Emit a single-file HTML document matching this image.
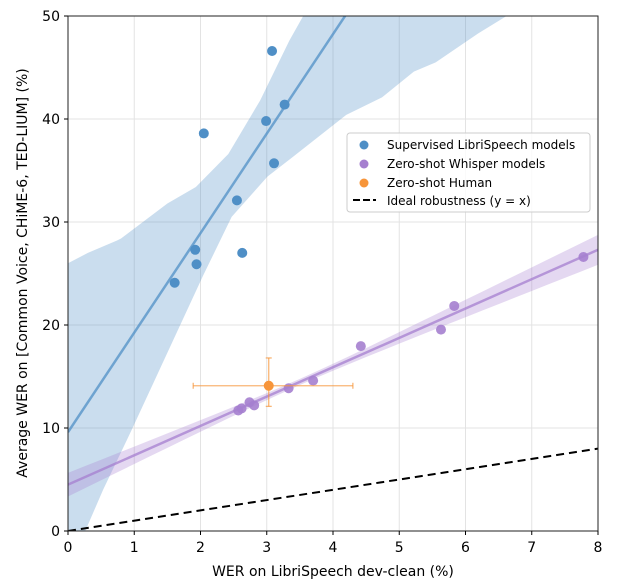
<!DOCTYPE html>
<html><head><meta charset="utf-8"><style>
body{margin:0;background:#fff}
svg text{font-family:"DejaVu Sans","Liberation Sans",sans-serif;fill:#000}
</style></head><body>
<svg id="chart" width="620" height="583" xmlns="http://www.w3.org/2000/svg">
<defs><clipPath id="clip"><rect x="68" y="16" width="530" height="515"/></clipPath></defs>
<g id="grid"></g>
<g id="plot" clip-path="url(#clip)"></g>
<rect x="68" y="16" width="530" height="515" fill="none" stroke="#222" stroke-width="1"/>
<g id="ticks"></g>
<text x="333" y="576" font-size="14" text-anchor="middle">WER on LibriSpeech dev-clean (%)</text>
<text transform="translate(27,273) rotate(-90)" font-size="14" text-anchor="middle">Average WER on [Common Voice, CHiME-6, TED-LIUM] (%)</text>
<g>
<rect x="347" y="133" width="243" height="79" rx="3" fill="#fff" fill-opacity="0.8" stroke="#ccc"/>
<circle cx="364" cy="145" r="4.5" fill="#4f8fc6"/>
<text x="387" y="149" font-size="12">Supervised LibriSpeech models</text>
<circle cx="364" cy="164" r="4.5" fill="#a57fcf"/>
<text x="387" y="168" font-size="12">Zero-shot Whisper models</text>
<circle cx="364" cy="183" r="4.5" fill="#f7953a"/>
<text x="387" y="187" font-size="12">Zero-shot Human</text>
<line x1="353" y1="200" x2="376" y2="200" stroke="#000" stroke-width="2" stroke-dasharray="7,3"/>
<text x="387" y="205" font-size="12">Ideal robustness (y = x)</text>
</g>
</svg>
<script>
const xTicks=[0,1,2,3,4,5,6,7,8];
const yTicks=[0,10,20,30,40,50];
const supX=[3.08,3.27,2.99,2.05,3.11,2.55,1.92,2.63,1.94,1.61];
const supY=[46.6,41.4,39.8,38.6,35.7,32.1,27.3,27.0,25.9,24.1];
const whX=[7.78,5.83,5.63,4.42,3.70,3.33,2.74,2.81,2.62,2.57];
const whY=[26.6,21.85,19.55,17.95,14.6,13.86,12.5,12.2,11.9,11.7];
const humX=[3.03], humY=[14.1], humXLo=[1.89], humXHi=[4.30], humYLo=[12.1], humYHi=[16.8];
const supFit=[9.6,9.66]; // intercept, slope
const whFit=[4.5,2.85];
const supBandUpperX=[0,0.3,0.74,0.8,1.5,1.93,2.42,2.9,3.34,3.55,8];
const supBandUpperY=[26,27,28.2,28.4,31.8,33.4,36.6,41.8,47.6,50,50];
const supBandLowerX=[8,6.62,6.19,5.55,5.22,4.74,4.2,3.39,3.01,2.47,2.04,1.5,0.96,0.53,0.26,0];
const supBandLowerY=[50,50,48.3,45.5,44.6,42.1,40.4,36.3,34.4,30.5,24.8,17.3,9.8,4,0,-4];
const NS='http://www.w3.org/2000/svg';
const X=v=>68+v*530/8, Y=v=>531-v*515/50;
function mk(tag,attrs,parent){const e=document.createElementNS(NS,tag);for(const k in attrs)e.setAttribute(k,attrs[k]);parent.appendChild(e);return e;}
const grid=document.getElementById('grid'),plot=document.getElementById('plot'),ticks=document.getElementById('ticks');
xTicks.forEach(t=>{
 let l=mk('line',{x1:X(t),x2:X(t),y1:16,y2:531,stroke:'#e3e3e3'},grid);
 
 
 let tk=mk('line',{x1:X(t),x2:X(t),y1:531,y2:535,stroke:'#000'},ticks);
 
 
 let tx=mk('text',{x:X(t),y:552,'font-size':14,'text-anchor':'middle'},ticks);tx.textContent=t;
 
 
});
yTicks.forEach(t=>{
 let l=mk('line',{x1:68,x2:598,y1:Y(t),y2:Y(t),stroke:'#e3e3e3'},grid);
 
 
 let tk=mk('line',{x1:64,x2:68,y1:Y(t),y2:Y(t),stroke:'#000'},ticks);
 
 
 let tx=mk('text',{x:60,y:Y(t)+5,'font-size':14,'text-anchor':'end'},ticks);tx.textContent=t;
 
 
});
let pts=supBandUpperX.map((x,i)=>X(x)+','+Y(supBandUpperY[i])).concat(supBandLowerX.map((x,i)=>X(x)+','+Y(supBandLowerY[i])));
let sb=mk('polygon',{points:pts.join(' '),fill:'#4f8fc6','fill-opacity':0.3},plot);


let up=[],lo=[];
for(let x=0;x<=8.001;x+=0.25){const c=whFit[0]+whFit[1]*x,h=Math.sqrt(0.09+0.1*(x-3.5)*(x-3.5));up.push(X(x)+','+Y(c+h));lo.unshift(X(x)+','+Y(c-h));}
let wb=mk('polygon',{points:up.concat(lo).join(' '),fill:'#a57fcf','fill-opacity':0.3},plot);


let il=mk('line',{x1:X(0),y1:Y(0),x2:X(8),y2:Y(8),stroke:'#000','stroke-width':2,'stroke-dasharray':'8,5'},plot);


let sl=mk('line',{x1:X(0),y1:Y(supFit[0]),x2:X(8),y2:Y(supFit[0]+supFit[1]*8),stroke:'#4f8fc6','stroke-width':2.5,'stroke-opacity':0.75},plot);


let wl=mk('line',{x1:X(0),y1:Y(whFit[0]),x2:X(8),y2:Y(whFit[0]+whFit[1]*8),stroke:'#a57fcf','stroke-width':2.5,'stroke-opacity':0.75},plot);


supX.forEach((x,i)=>{let c=mk('circle',{cx:X(x),cy:Y(supY[i]),r:5,fill:'#4f8fc6'},plot);
 
 });
whX.forEach((x,i)=>{let c=mk('circle',{cx:X(x),cy:Y(whY[i]),r:5,fill:'#a57fcf','fill-opacity':0.9},plot);
 
 });
humX.forEach((x,i)=>{
 const g=mk('g',{stroke:'#f7953a','stroke-width':1.3,'stroke-opacity':0.7},plot);
 
 
 mk('line',{x1:X(humXLo[i]),x2:X(humXHi[i]),y1:Y(humY[i]),y2:Y(humY[i])},g);
 mk('line',{x1:X(x),x2:X(x),y1:Y(humYLo[i]),y2:Y(humYHi[i])},g);
 mk('line',{x1:X(humXLo[i]),x2:X(humXLo[i]),y1:Y(humY[i])-3,y2:Y(humY[i])+3},g);
 mk('line',{x1:X(humXHi[i]),x2:X(humXHi[i]),y1:Y(humY[i])-3,y2:Y(humY[i])+3},g);
 mk('line',{x1:X(x)-3,x2:X(x)+3,y1:Y(humYLo[i]),y2:Y(humYLo[i])},g);
 mk('line',{x1:X(x)-3,x2:X(x)+3,y1:Y(humYHi[i]),y2:Y(humYHi[i])},g);
 let c=mk('circle',{cx:X(x),cy:Y(humY[i]),r:5,fill:'#f7953a'},plot);
 
 
});
</script>
</body></html>
